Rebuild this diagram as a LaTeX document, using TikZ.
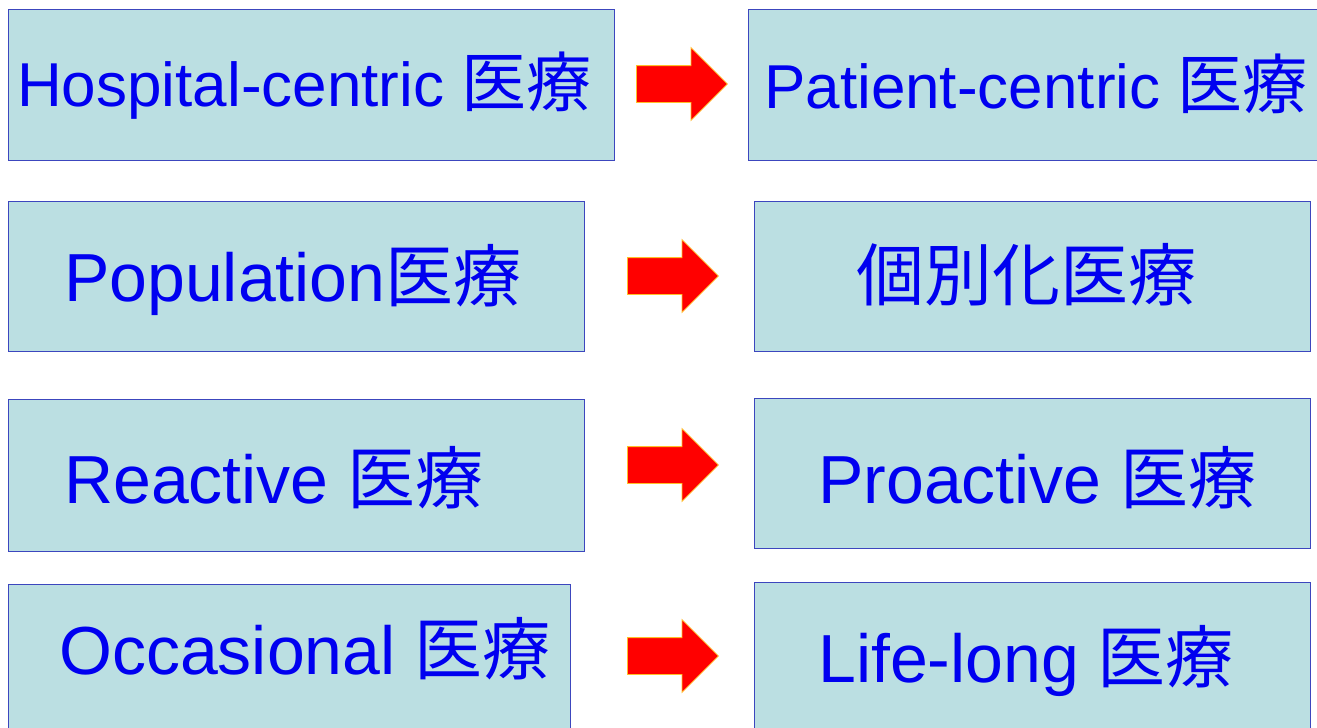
\documentclass[tikz,border=0pt]{standalone}
\usepackage{fontspec}
\setmainfont{Liberation Sans}
\newfontfamily\jpfont{Noto Sans CJK JP}
\usetikzlibrary{shapes.arrows}
\definecolor{boxfill}{RGB}{187,223,226}
\definecolor{boxline}{RGB}{60,70,190}
\definecolor{txtblue}{RGB}{0,0,240}
\definecolor{arrline}{RGB}{255,190,40}
\tikzset{
  box/.style={rectangle, draw=boxline, fill=boxfill, line width=1.2pt, anchor=north west, inner sep=0pt},
  lbl/.style={anchor=base west, inner sep=0pt, text=txtblue},
  big/.style={lbl, font=\fontsize{68}{68}\selectfont},
  small/.style={lbl, font=\fontsize{62}{62}\selectfont},
  redarrow/.style={single arrow, fill=red, draw=arrline, line width=0.8pt, inner sep=0pt,
    minimum height=91pt, minimum width=72pt, single arrow head extend=18pt, shape border rotate=0, anchor=tail}
}
\newcommand\shaftstrut{\rule{0pt}{36pt}}
\begin{document}
\begin{tikzpicture}[x=1pt,y=-1pt]
\useasboundingbox (0,0) rectangle (1317,728);
% boxes
\node[box, minimum width=606pt, minimum height=151pt] (b1l) at (8,9) {};
\node[box, minimum width=580pt, minimum height=151pt] (b1r) at (748,9) {};
\node[box, minimum width=576pt, minimum height=150pt] (b2l) at (8,201) {};
\node[box, minimum width=556pt, minimum height=150pt] (b2r) at (754,201) {};
\node[box, minimum width=576pt, minimum height=152pt] (b3l) at (8,399) {};
\node[box, minimum width=556pt, minimum height=150pt] (b3r) at (754,398) {};
\node[box, minimum width=562pt, minimum height=151pt] (b4l) at (8,584) {};
\node[box, minimum width=556pt, minimum height=151pt] (b4r) at (754,582) {};
% texts
\node[small] (t1l) at (17,106) {Hospital-centric {\jpfont\fontsize{65}{65}\selectfont 医療}};
\node[small] (t1r) at (764,108) {Patient-centric {\jpfont\fontsize{65}{65}\selectfont 医療}};
\node[big] (t2l) at (64,301) {Population{\jpfont 医療}};
\node[big] (t2r) at (856,300) {\jpfont 個別化医療};
\node[big] (t3l) at (64,503) {Reactive {\jpfont 医療}};
\node[big] (t3r) at (818,503) {Proactive {\jpfont 医療}};
\node[big] (t4l) at (59,674) {Occasional {\jpfont 医療}};
\node[big] (t4r) at (818,682) {Life-long {\jpfont 医療}};
% arrows
\node[redarrow] (a1) at (636,84) {\shaftstrut};
\node[redarrow] (a2) at (627,276) {\shaftstrut};
\node[redarrow] (a3) at (627,465) {\shaftstrut};
\node[redarrow] (a4) at (627,656) {\shaftstrut};
\end{tikzpicture}
\end{document}
